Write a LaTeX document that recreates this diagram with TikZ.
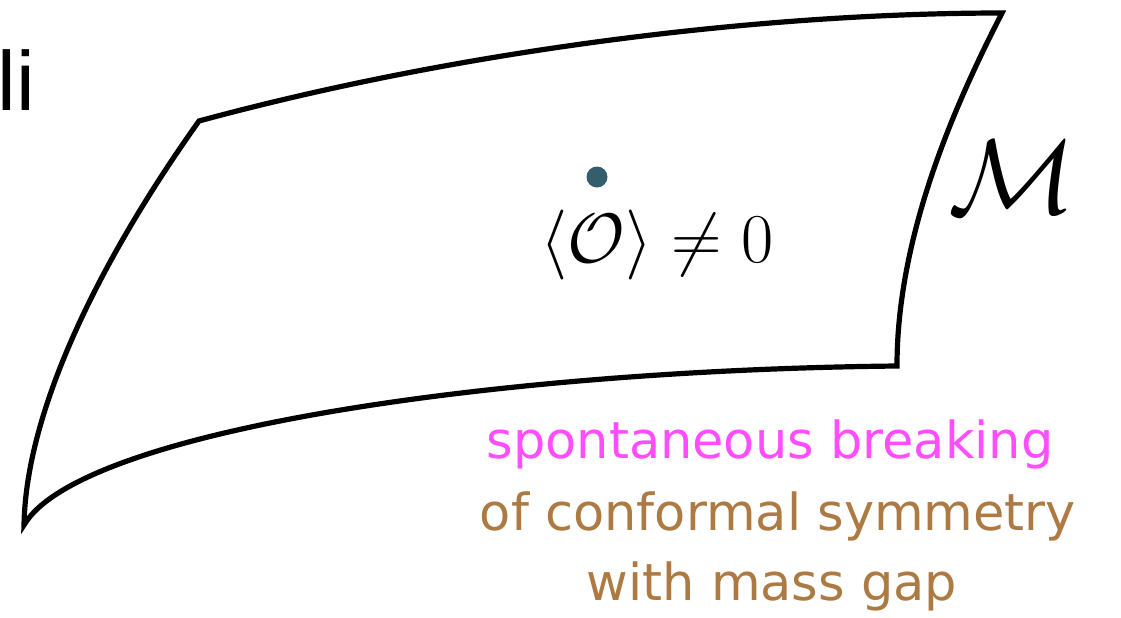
\RequirePackage{fix-cm}
\documentclass[tikz,border=0pt]{standalone}
\usepackage[no-math]{fontspec}
\usepackage{tikz}
\usetikzlibrary{positioning}
\newfontfamily\manofont{DejaVu Sans}
\newfontfamily\helvfont{Liberation Sans}
\definecolor{rosa}{RGB}{255,77,255}
\definecolor{marron}{RGB}{172,122,66}
\definecolor{puntoc}{RGB}{52,94,108}
\tikzset{
  borde/.style={line width=2.6pt, line join=miter, draw=black},
  punto/.style={circle, fill=puntoc, inner sep=0pt, minimum size=10.5pt},
  formula/.style={font=\fontsize{35}{40}\selectfont, inner sep=0pt},
  variedad/.style={font=\fontsize{53}{60}\selectfont, inner sep=0pt},
  corte/.style={font=\helvfont\fontsize{42}{50}\selectfont, inner sep=0pt},
  etiq/.style={font=\manofont\fontsize{25.5}{30}\selectfont, inner sep=0pt, anchor=base}
}
\begin{document}
\begin{tikzpicture}[x=0.5pt, y=-0.5pt]
  \useasboundingbox (0,0) rectangle (1121,617);
  % esquinas de la superficie
  \coordinate (tl) at (199,121);
  \coordinate (tr) at (1002,13);
  \coordinate (br) at (897,366);
  \coordinate (bl) at (24,525);
  \draw[borde] (tl) .. controls (449,53) and (750,13) .. (tr)
    .. controls (960,95) and (897,230) .. (br)
    .. controls (500,370) and (80,430) .. (bl)
    .. controls (26,410) and (100,260) .. cycle;
  \node[corte, anchor=base west] (li) at (-3,110) {li};
  \node[punto] (vev) at (597,177) {};
  \node[formula, anchor=base] (orden) at (657,262) {$\langle\mathcal{O}\rangle\neq 0$};
  \node[variedad] (M) at (1012,177) {$\mathcal{M}$};
  \node[etiq, text=rosa] (ruptura) at (770,458) {spontaneous breaking};
  \node[etiq, text=marron, below=36pt of ruptura.base, anchor=base, xshift=4pt] (conforme) {of conformal symmetry};
  \node[etiq, text=marron, below=35pt of conforme.base, anchor=base, xshift=-3pt] (gap) {with mass gap};
\end{tikzpicture}
\end{document}
